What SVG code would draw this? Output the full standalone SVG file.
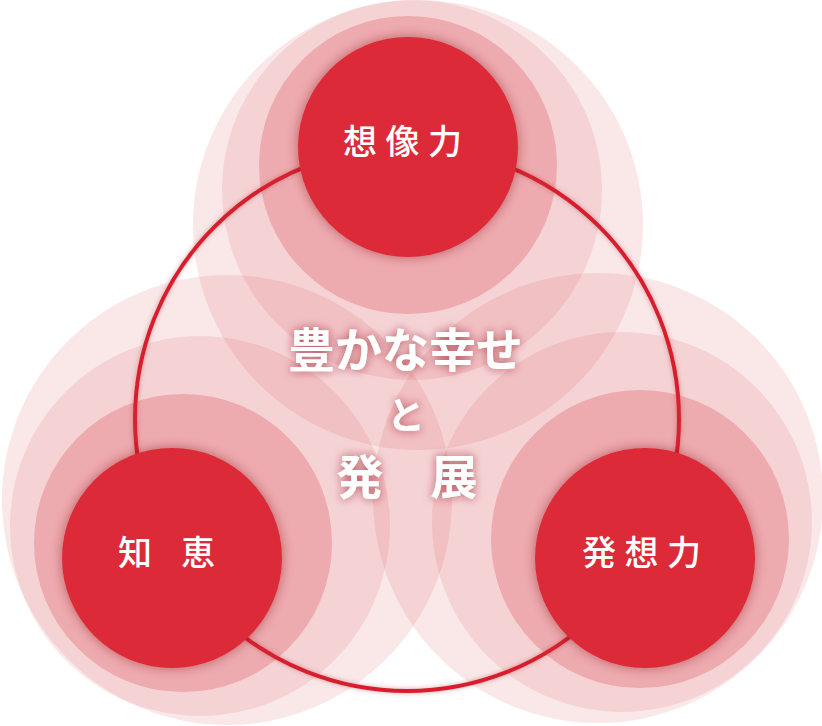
<svg xmlns="http://www.w3.org/2000/svg" width="822" height="726" viewBox="0 0 822 726">
  <style>
    .halo { fill: #d52c3a; }
    .h1 { fill-opacity: 0.11; }
    .h2 { fill-opacity: 0.11; }
    .h3 { fill-opacity: 0.245; }
    .core { fill: #dd2a37; filter: url(#coreShadow); }
    .label { font-family: "Noto Sans CJK JP", "Noto Sans", sans-serif; font-size: 34px; font-weight: 500; fill: #ffffff; }
    .center { font-family: "Noto Sans CJK JP", "Noto Sans", sans-serif; font-weight: 700; fill: #ffffff; text-anchor: middle; filter: url(#textGlow); }
    .link { fill: none; stroke: #d91f2e; stroke-width: 4; filter: url(#lineGlow); }
  </style>
  <defs>
    <filter id="coreShadow" x="-30%" y="-30%" width="160%" height="160%">
      <feDropShadow dx="0" dy="0" stdDeviation="6" flood-color="#7a0f1a" flood-opacity="0.45"/>
    </filter>
    <filter id="lineGlow" x="-10%" y="-10%" width="120%" height="120%">
      <feDropShadow dx="0" dy="0" stdDeviation="2.5" flood-color="#8a1020" flood-opacity="0.35"/>
    </filter>
    <filter id="textGlow" x="-30%" y="-50%" width="160%" height="200%">
      <feDropShadow dx="0" dy="0" stdDeviation="5" flood-color="#9a1a28" flood-opacity="0.7"/>
    </filter>
  </defs>

  <g id="connectors">
    <circle class="link" cx="407" cy="419" r="272"/>
  </g>

  <g id="node-imagination">
    <circle class="halo h1" cx="418" cy="225" r="225"/>
    <circle class="halo h2" cx="412" cy="190" r="190"/>
    <circle class="halo h3" cx="408" cy="165" r="149"/>
  </g>
  <g id="node-wisdom">
    <circle class="halo h1" cx="227" cy="500" r="225"/>
    <circle class="halo h2" cx="200" cy="526" r="190"/>
    <circle class="halo h3" cx="183" cy="543" r="149"/>
  </g>
  <g id="node-ideas">
    <circle class="halo h1" cx="598" cy="498" r="225"/>
    <circle class="halo h2" cx="622" cy="522" r="190"/>
    <circle class="halo h3" cx="640" cy="539" r="149"/>
  </g>

  <g id="core-imagination">
    <circle class="core" cx="408" cy="147" r="110"/>
    <text class="label" x="343 385.5 428" y="154">想像力</text>
  </g>
  <g id="core-wisdom">
    <circle class="core" cx="172" cy="558" r="110"/>
    <text class="label" x="118 181" y="565">知恵</text>
  </g>
  <g id="core-ideas">
    <circle class="core" cx="645" cy="558" r="110"/>
    <text class="label" x="582 624.5 667" y="565">発想力</text>
  </g>

  <g id="center-text">
    <text class="center" x="405.5" y="367" font-size="47">豊かな幸せ</text>
    <text class="center" x="406" y="429" font-size="38">と</text>
    <text class="center" x="407" y="494" font-size="47">発　展</text>
  </g>
</svg>
